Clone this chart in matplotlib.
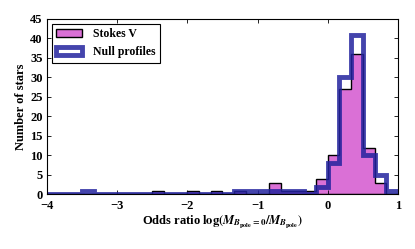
import numpy as np
import matplotlib
matplotlib.use("Agg")
import matplotlib.pyplot as plt

plt.rcParams['font.family'] = ['Liberation Serif', 'DejaVu Serif']
plt.rcParams['font.weight'] = 'bold'
plt.rcParams['mathtext.fontset'] = 'stix'

# histogram bins: 30 bins of width 1/6 from -4 to 1
bin_edges = np.linspace(-4, 1, 31)
bin_centers = 0.5 * (bin_edges[:-1] + bin_edges[1:])

# counts per bin
stokes_v = [0, 0, 0, 0, 0, 0, 0, 0, 0, 1,
            0, 0, 1, 0, 1, 0, 1, 0, 0, 3,
            1, 1, 1, 4, 10, 27, 36, 12, 3, 0]
null_profiles = [0, 0, 0, 1, 0, 0, 0, 0, 0, 0,
                 0, 0, 0, 0, 0, 0, 1, 1, 1, 1,
                 1, 1, 0, 2, 8, 30, 41, 10, 5, 1]

fig = plt.figure(figsize=(4.15, 2.49), dpi=100)
ax = fig.add_axes([0.113, 0.219, 0.846, 0.705])

ax.hist(bin_centers, bins=bin_edges, weights=stokes_v, histtype='stepfilled',
        facecolor='#da70d6', edgecolor='black', linewidth=1.0, label='Stokes V')
ax.hist(bin_centers, bins=bin_edges, weights=null_profiles, histtype='step',
        color='#23239e', alpha=0.85, linewidth=3.5, label='Null profiles')

ax.set_xlim(-4, 1)
ax.set_ylim(0, 45)
ax.set_xticks(np.arange(-4, 2, 1))
ax.set_yticks(np.arange(0, 50, 5))
ax.tick_params(direction='in', top=True, right=True, labelsize=9, length=3, width=0.6)
ax.tick_params(axis='x', pad=4)
ax.tick_params(axis='y', pad=3)
for s in ax.spines.values():
    s.set_linewidth(0.8)

ax.set_xlabel(r'Odds ratio $\log(M_{B_{\rm pole}=0}/M_{B_{\rm pole}})$', fontsize=9, fontweight='bold', labelpad=1)
ax.set_ylabel('Number of stars', fontsize=9, fontweight='bold', labelpad=2)

leg = ax.legend(loc='upper left', fontsize=8.5, fancybox=False, framealpha=1,
                edgecolor='black', borderaxespad=0.4, handlelength=2.2,
                handletextpad=0.9, borderpad=0.4)
leg.get_frame().set_linewidth(0.8)

fig.savefig('out.png', dpi=100)
